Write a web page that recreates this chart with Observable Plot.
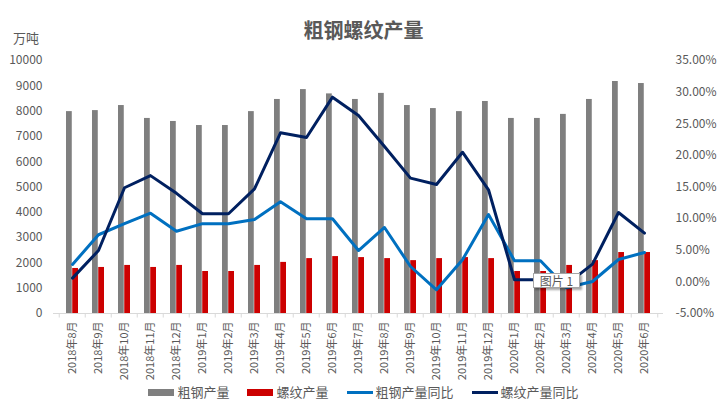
<!DOCTYPE html>
<html><head><meta charset="utf-8">
<script src="https://cdn.jsdelivr.net/npm/d3@7"></script>
<script src="https://cdn.jsdelivr.net/npm/@observablehq/plot@0.6"></script>
<style>
body{margin:0;background:#fff;font-family:"Noto Sans CJK SC","Noto Sans",sans-serif;}
#wrap{position:relative;width:727px;height:416px;overflow:hidden;background:#fff;}
#title{position:relative;height:48px;box-sizing:border-box;padding-top:19px;text-align:center;font-size:20px;line-height:22px;font-weight:bold;color:#595959;}
#unit{position:absolute;left:13px;top:30px;font-size:13px;line-height:16px;font-weight:normal;color:#595959;}
#chart svg{display:block;}
#legend{display:flex;justify-content:center;align-items:center;height:16px;font-size:13px;line-height:16px;color:#595959;}
.item{display:flex;align-items:center;margin:0 9px;}
.sw{display:inline-block;width:26px;margin-right:3px;}
#tip{position:absolute;left:533px;top:273px;width:45px;height:13px;border:1px solid #a6a6a6;background:#fff;font-size:12px;line-height:13px;color:#595959;text-align:center;box-shadow:2px 2px 2px rgba(0,0,0,0.35);}
</style></head>
<body>
<div id="wrap">
  <div id="title">粗钢螺纹产量<span id="unit">万吨</span></div>
  <div id="chart"></div>
  <div id="legend"></div>
  <div id="tip">图片 1</div>
</div>
<script>
const months = ["2018年8月","2018年9月","2018年10月","2018年11月","2018年12月","2019年1月","2019年2月","2019年3月","2019年4月","2019年5月","2019年6月","2019年7月","2019年8月","2019年9月","2019年10月","2019年11月","2019年12月","2020年1月","2020年2月","2020年3月","2020年4月","2020年5月","2020年6月"];
const crude = [7980,8020,8220,7710,7590,7430,7430,7980,8460,8850,8680,8460,8700,8220,8100,7980,8380,7710,7710,7870,8460,9170,9090];
const rebar = [1780,1820,1900,1820,1900,1660,1660,1900,2020,2170,2250,2210,2170,2090,2170,2210,2170,1660,1660,1900,2090,2410,2410];
const crudeYoY = [2.75,7.45,9.2,10.86,8.0,9.2,9.2,9.87,12.66,9.97,9.97,4.96,8.6,2.43,-1.25,3.49,10.66,3.33,3.33,-0.94,0.06,3.54,4.65];
const rebarYoY = [0.59,4.96,14.88,16.8,14.0,10.77,10.77,14.7,23.57,22.83,29.2,26.3,21.4,16.4,15.4,20.5,14.56,0.33,0.33,-0.4,2.8,10.97,7.7];
const leftTicks = d3.range(0, 10001, 1000);
const rightTicks = d3.range(-5, 35.01, 5);
const seriesNames = ["粗钢产量","螺纹产量","粗钢产量同比","螺纹产量同比"];
const colors = ["#7f7f7f","#cc0000","#0070c0","#002060"];

const rows = months.map((m,i)=>({m, crude:crude[i], rebar:rebar[i], cy:crudeYoY[i], ry:rebarYoY[i]}));
// right axis (-5%..35%) mapped onto left axis (0..10000)
const toLeft = p => (p + 5) * 250;
const fromLeft = v => v / 250 - 5;

const W = 727, H = 336, mL = 53, mR = 64;
const step = (W - mL - mR) / months.length;
const pin = 0.53;
const bw = step * (1 - pin);
const font = '"Noto Sans CJK SC","Noto Sans",sans-serif';

const chart = Plot.plot({
  width: W, height: H, marginLeft: mL, marginRight: mR, marginTop: 12, marginBottom: 71,
  style: {fontFamily: font, fontSize: "12px", color: "#595959", background: "#fff"},
  x: {type: "band", domain: months, paddingInner: pin, paddingOuter: pin/2, label: null},
  y: {domain: [0, 10000], label: null},
  marks: [
    Plot.barY(rows, {x: "m", y: "crude", fill: colors[0], insetRight: bw/2}),
    Plot.barY(rows, {x: "m", y: "rebar", fill: colors[1], insetLeft: bw/2}),
    Plot.ruleY([0], {stroke: "#d9d9d9"}),
    Plot.ruleX(months, {x: d => d, y1: 0, y2: -180, dx: -step/2, stroke: "#d9d9d9"}),
    Plot.ruleX(months.slice(-1), {x: d => d, y1: 0, y2: -180, dx: step/2, stroke: "#d9d9d9"}),
    Plot.line(rows, {x: "m", y: d => toLeft(d.cy), stroke: colors[2], strokeWidth: 3, strokeLinejoin: "round"}),
    Plot.line(rows, {x: "m", y: d => toLeft(d.ry), stroke: colors[3], strokeWidth: 3, strokeLinejoin: "round"}),
    Plot.axisX({tickRotate: -90, tickSize: 0, tickPadding: 8, fontSize: 11, label: null}),
    Plot.axisY({ticks: leftTicks, tickSize: 0, tickPadding: 11, tickFormat: d => String(d), fontSize: 12, label: null}),
    Plot.axisY({anchor: "right", ticks: rightTicks.map(toLeft), tickSize: 0, tickPadding: 12,
      tickFormat: d => fromLeft(d).toFixed(2) + "%", fontSize: 12, label: null})
  ]
});
document.getElementById("chart").appendChild(chart);

const leg = document.getElementById("legend");
seriesNames.forEach((n, i) => {
  const it = document.createElement("div"); it.className = "item";
  const sw = document.createElement("span"); sw.className = "sw";
  sw.style.height = i < 2 ? "7px" : "3px";
  sw.style.background = colors[i];
  it.appendChild(sw);
  const t = document.createElement("span"); t.textContent = n;
  it.appendChild(t);
  leg.appendChild(it);
});
</script>
</body></html>
